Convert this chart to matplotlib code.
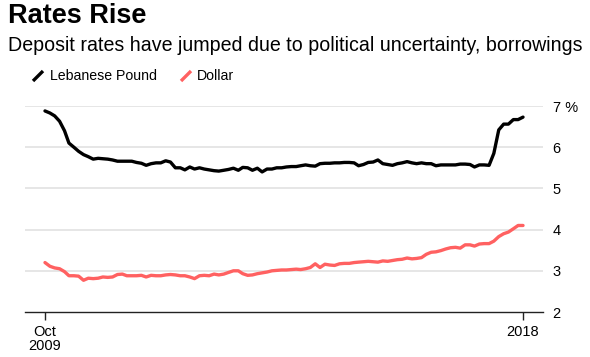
import matplotlib
matplotlib.use("Agg")
import matplotlib.pyplot as plt
import pandas as pd
from datetime import timedelta

plt.rcParams['font.family'] = ['Liberation Sans', 'DejaVu Sans']

# monthly deposit rates, Oct 2009 .. Jan 2018 (%)
dates = pd.date_range('2009-10-01', periods=100, freq='MS')
lbp_rates = [
    6.88, 6.83, 6.76, 6.63, 6.40, 6.10, 6.00, 5.90, 5.82, 5.77,
    5.71, 5.73, 5.72, 5.71, 5.69, 5.66, 5.66, 5.66, 5.66, 5.63,
    5.61, 5.56, 5.60, 5.62, 5.62, 5.67, 5.64, 5.50, 5.50, 5.45,
    5.52, 5.47, 5.50, 5.47, 5.45, 5.43, 5.42, 5.44, 5.46, 5.49,
    5.44, 5.51, 5.50, 5.44, 5.49, 5.40, 5.47, 5.47, 5.50, 5.50,
    5.52, 5.53, 5.53, 5.55, 5.57, 5.55, 5.54, 5.60, 5.61, 5.61,
    5.62, 5.62, 5.63, 5.63, 5.62, 5.55, 5.58, 5.63, 5.64, 5.69,
    5.60, 5.58, 5.56, 5.60, 5.62, 5.65, 5.62, 5.60, 5.62, 5.60,
    5.60, 5.55, 5.57, 5.57, 5.57, 5.57, 5.59, 5.59, 5.58, 5.52,
    5.57, 5.57, 5.56, 5.85, 6.42, 6.56, 6.56, 6.67, 6.67, 6.73,
]
usd_rates = [
    3.20, 3.11, 3.07, 3.05, 2.98, 2.88, 2.88, 2.87, 2.77, 2.82,
    2.81, 2.82, 2.85, 2.84, 2.85, 2.91, 2.92, 2.88, 2.88, 2.88,
    2.89, 2.85, 2.89, 2.88, 2.88, 2.90, 2.91, 2.90, 2.88, 2.88,
    2.85, 2.81, 2.88, 2.89, 2.88, 2.92, 2.90, 2.92, 2.96, 3.00,
    3.00, 2.93, 2.89, 2.90, 2.93, 2.95, 2.97, 3.00, 3.01, 3.02,
    3.02, 3.03, 3.04, 3.03, 3.05, 3.08, 3.17, 3.08, 3.16, 3.14,
    3.13, 3.17, 3.18, 3.18, 3.20, 3.21, 3.22, 3.23, 3.22, 3.21,
    3.24, 3.23, 3.25, 3.27, 3.28, 3.31, 3.29, 3.30, 3.32, 3.40,
    3.45, 3.46, 3.49, 3.53, 3.56, 3.57, 3.55, 3.63, 3.63, 3.60,
    3.65, 3.66, 3.66, 3.72, 3.83, 3.90, 3.94, 4.02, 4.10, 4.10,
]
y_ticks = [2, 3, 4, 5, 6, 7]
y_labels = ['2', '3', '4', '5', '6', '7 %']
x_labels = ['Oct\n2009', '2018']

BLACK = '#000000'
RED = '#ff6161'

fig = plt.figure(figsize=(5.9, 3.57), dpi=100)
ax = fig.add_axes([25 / 590, 45 / 357, 518 / 590, 206 / 357])

for y in y_ticks[1:]:
    ax.axhline(y, color='#e1e1e1', linewidth=1.2, zorder=1)

ax.plot(dates, lbp_rates, color=BLACK, linewidth=2.4, solid_capstyle='round',
        solid_joinstyle='round', zorder=3, clip_on=False)
ax.plot(dates, usd_rates, color=RED, linewidth=2.4, solid_capstyle='round',
        solid_joinstyle='round', zorder=3, clip_on=False)

pad = timedelta(days=126)
ax.set_xlim(dates[0] - pad, dates[-1] + pad)
ax.set_ylim(2, 7)

ax.set_xticks([dates[0], dates[-1]])
ax.set_xticklabels(x_labels, fontsize=10.5, linespacing=1.0)
ax.tick_params(axis='x', length=6, width=1, color='#222222', pad=3)

ax.yaxis.tick_right()
ax.set_yticks(y_ticks)
ax.set_yticklabels(y_labels, fontsize=10.5)
ax.tick_params(axis='y', length=0, pad=7)

for s in ['top', 'left', 'right']:
    ax.spines[s].set_visible(False)
ax.spines['bottom'].set_color('#222222')
ax.spines['bottom'].set_linewidth(1.0)

# titles
fig.text(8 / 590, 1 - 3 / 357, 'Rates Rise', fontsize=19.5, fontweight='bold',
         va='top', ha='left')
fig.text(8 / 590, 1 - 36 / 357,
         'Deposit rates have jumped due to political uncertainty, borrowings',
         fontsize=14.1, va='top', ha='left')

# legend
def legend_item(x0, color, label, tx):
    fig.add_artist(plt.Line2D([x0 / 590, (x0 + 10) / 590],
                              [1 - 81 / 357, 1 - 71 / 357],
                              color=color, linewidth=2.4,
                              solid_capstyle='butt'))
    fig.text(tx / 590, 1 - 76 / 357, label, fontsize=10.2,
             va='center', ha='left')

legend_item(33, BLACK, 'Lebanese Pound', 50)
legend_item(181, RED, 'Dollar', 197)

fig.savefig('out.png', dpi=100)
